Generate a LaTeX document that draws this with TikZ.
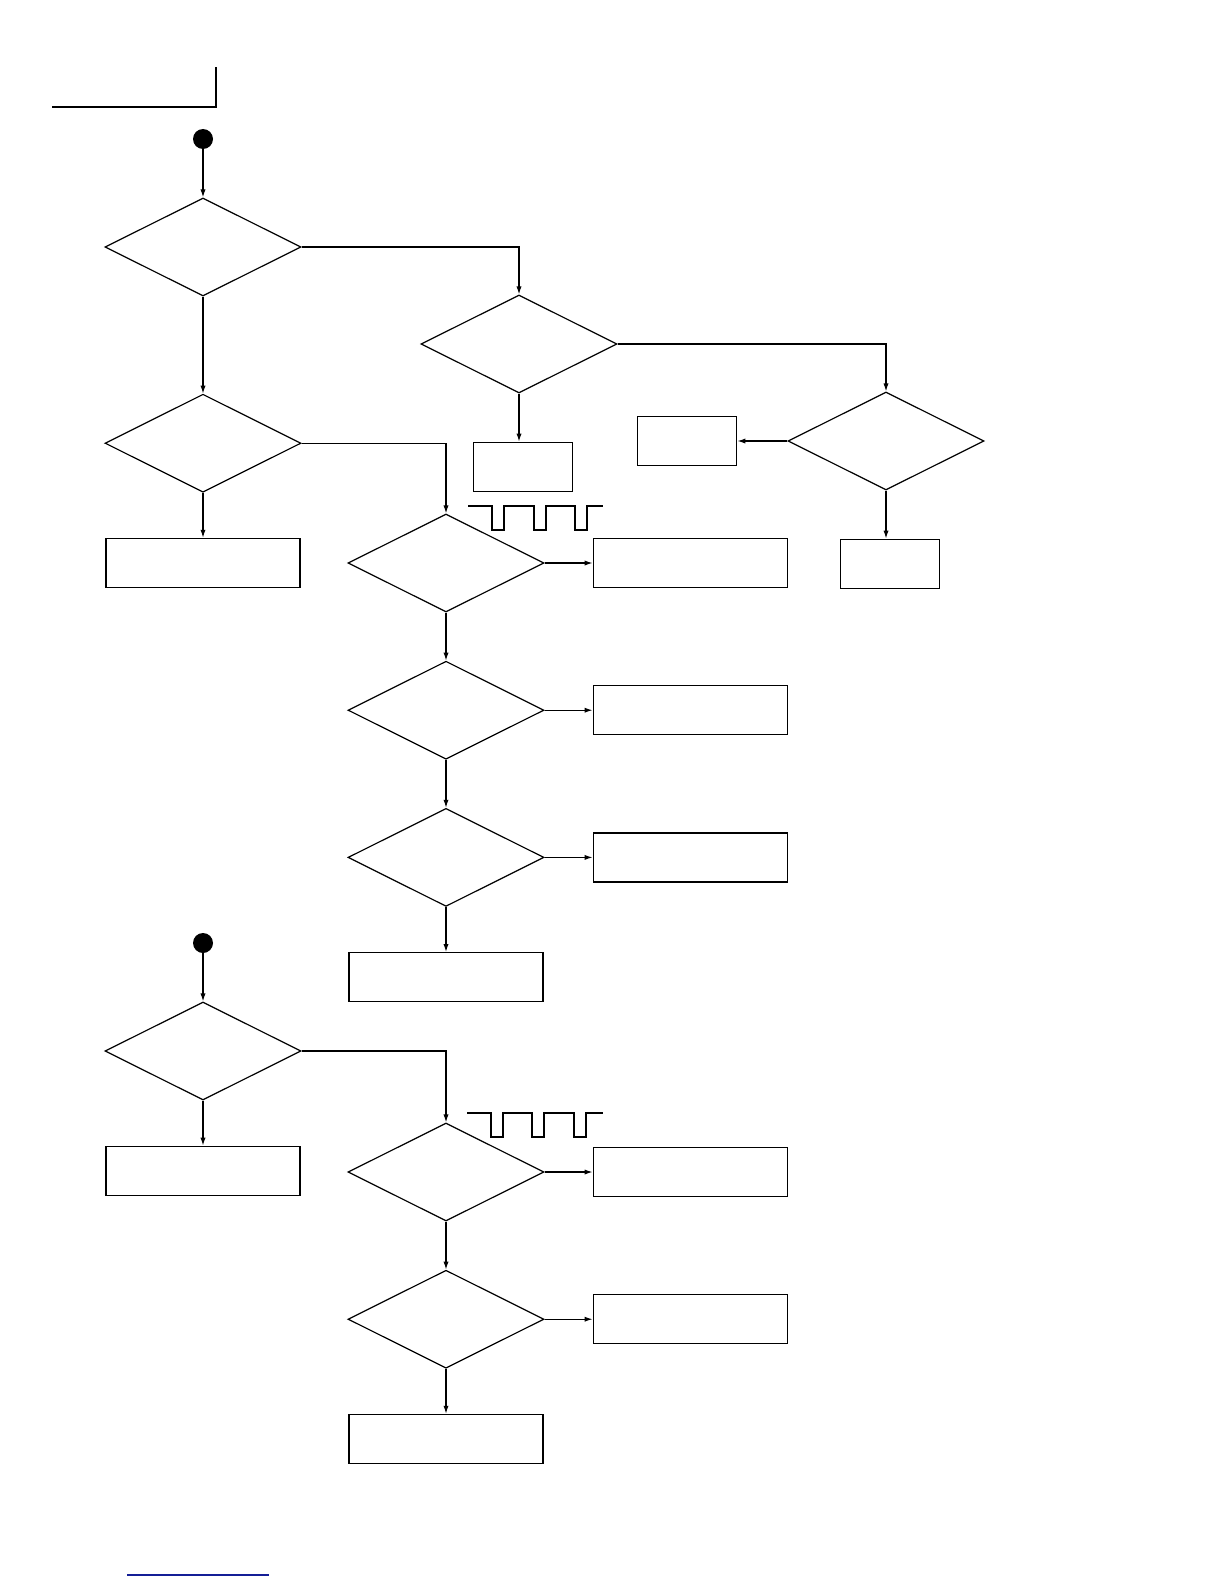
\documentclass[tikz,border=0pt]{standalone}
\usetikzlibrary{shapes.geometric, arrows.meta, positioning}
\definecolor{linkblue}{RGB}{20,30,150}

\begin{document}
\begin{tikzpicture}[
  x=0.5pt, y=-0.5pt, >={Latex[length=4pt,width=2.6pt]},
  node distance = 24pt and 24pt,
  dec/.style  = {diamond, draw, line width=0.6pt, minimum width=98pt,
                 minimum height=49pt, inner sep=0pt},
  act/.style  = {rectangle, draw, line width=0.6pt, minimum width=97pt,
                 minimum height=24.5pt, inner sep=0pt},
  sact/.style = {act, minimum width=49.5pt},
  dot/.style  = {circle, fill, inner sep=0pt, minimum size=10pt},
  flow/.style = {->, line width=0.6pt},
  pulse/.style= {line width=0.6pt}
]
  \useasboundingbox (0,0) rectangle (1224,1584);

  % header corner
  \draw[line width=0.6pt] (52,107) -- (216,107) -- (216,67);

  % first chart
  \node[dot] (s1) at (203,139) {};
  \node[dec, below=of s1] (d1) {};
  \node[dec, below=48.5pt of d1] (d3) {};
  \node[dec] (d2) at (519,344) {};
  \node[dec] (d4) at (886,441) {};
  \node[dec] (d5) at (446,563) {};
  \node[dec, below=of d5] (d6) {};
  \node[dec, below=of d6] (d7) {};

  \node[act, below=22.5pt of d3] (b1) {};
  \node[sact, below=of d2, xshift=2pt] (b2) {};
  \node[sact, left=25pt of d4] (b3) {};
  \node[sact, below=of d4, xshift=2pt] (b4) {};
  \node[act, right=of d5] (b5) {};
  \node[act, right=of d6] (b6) {};
  \node[act, right=of d7] (b7) {};
  \node[act, below=22.5pt of d7] (b8) {};

  \draw[flow] (s1) -- (d1);
  \draw[flow] (d1.east) -| (d2.north);
  \draw[flow] (d1) -- (d3);
  \draw[flow] (d2.east) -| (d4.north);
  \draw[flow] (d2.south) -- (d2.south |- b2.north);
  \draw[flow] (d3) -- (b1);
  \draw[flow] (d3.east) -| (d5.north);
  \draw[flow] (d4) -- (b3);
  \draw[flow] (d4.south) -- (d4.south |- b4.north);
  \draw[flow] (d5) -- (b5);
  \draw[flow] (d5) -- (d6);
  \draw[flow] (d6) -- (b6);
  \draw[flow] (d6) -- (d7);
  \draw[flow] (d7) -- (b7);
  \draw[flow] (d7) -- (b8);

  \draw[pulse] (468,506) foreach \x in {492,534,575}
    { -- (\x,506) -- (\x,530) -- (\x+12,530) -- (\x+12,506) } -- (603,506);

  % second chart
  \node[dot] (s2) at (203,943) {};
  \node[dec, below=of s2] (d8) {};
  \node[dec] (d9) at (446,1172) {};
  \node[dec, below=of d9] (d10) {};

  \node[act, below=22.5pt of d8] (b9) {};
  \node[act, right=of d9] (b10) {};
  \node[act, right=of d10] (b11) {};
  \node[act, below=22.5pt of d10] (b12) {};

  \draw[flow] (s2) -- (d8);
  \draw[flow] (d8.east) -| (d9.north);
  \draw[flow] (d8) -- (b9);
  \draw[flow] (d9) -- (b10);
  \draw[flow] (d9) -- (d10);
  \draw[flow] (d10) -- (b11);
  \draw[flow] (d10) -- (b12);

  \draw[pulse] (467,1113) foreach \x in {491,532,574}
    { -- (\x,1113) -- (\x,1137) -- (\x+12,1137) -- (\x+12,1113) } -- (603,1113);

  % footer rule
  \draw[linkblue, line width=0.8pt] (127,1575) -- (269,1575);
\end{tikzpicture}
\end{document}
